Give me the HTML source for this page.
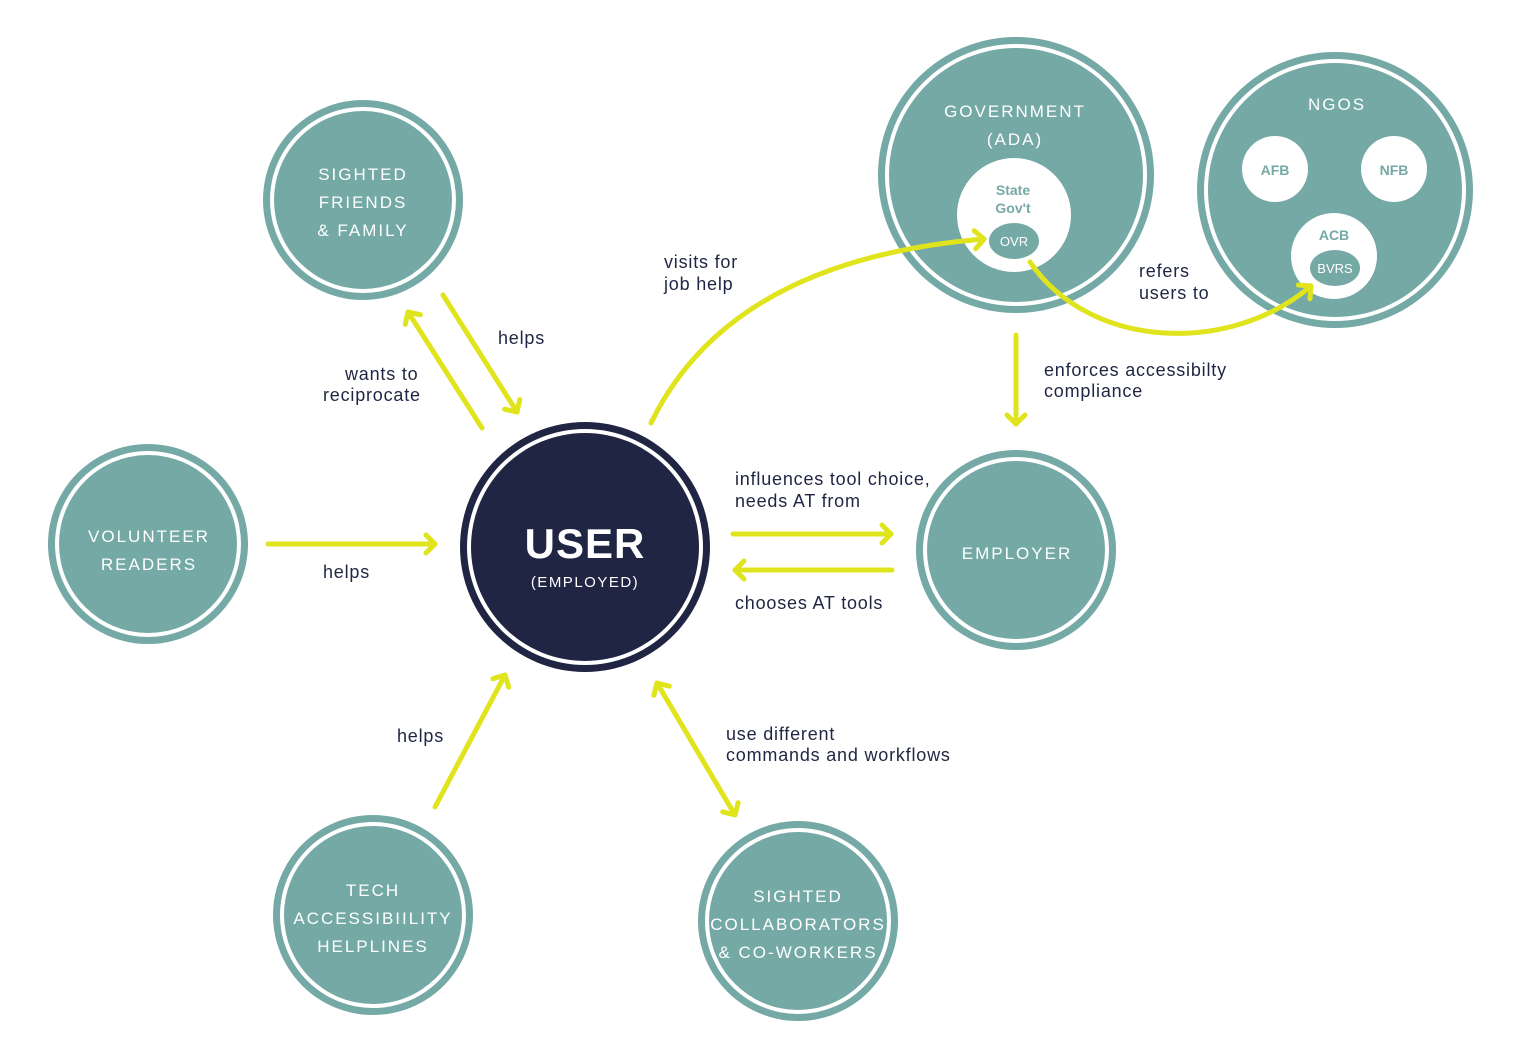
<!DOCTYPE html>
<html><head><meta charset="utf-8"><style>
body{margin:0;background:#fff}
svg{display:block}
.t{font-family:"Liberation Sans",sans-serif;fill:#fff;font-size:17px;letter-spacing:2px;text-anchor:middle}
.l{font-family:"Liberation Sans",sans-serif;fill:#1f2543;font-size:18px;letter-spacing:0.8px}
.s{font-family:"Liberation Sans",sans-serif;fill:#74a9a6;font-size:14px;text-anchor:middle;font-weight:bold}
.w{font-family:"Liberation Sans",sans-serif;fill:#fff;font-size:13px;text-anchor:middle}
.a{stroke:#e0e41c;stroke-width:5;fill:none;stroke-linecap:round}
</style></head><body>
<svg width="1531" height="1059" viewBox="0 0 1531 1059">
<defs>
<marker id="m" viewBox="-12 -12 24 24" markerWidth="24" markerHeight="24" refX="0" refY="0" orient="auto" markerUnits="userSpaceOnUse">
<path d="M-9,-9 L0,0 L-9,9" stroke="#e0e41c" stroke-width="5" fill="none" stroke-linecap="round" stroke-linejoin="round"/>
</marker>
<marker id="ms" viewBox="-12 -12 24 24" markerWidth="24" markerHeight="24" refX="0" refY="0" orient="auto-start-reverse" markerUnits="userSpaceOnUse">
<path d="M-9,-9 L0,0 L-9,9" stroke="#e0e41c" stroke-width="5" fill="none" stroke-linecap="round" stroke-linejoin="round"/>
</marker>
</defs>
<g fill="#74a9a6">
<circle cx="363" cy="200" r="100"/><circle cx="148" cy="544" r="100"/>
<circle cx="1016" cy="550" r="100"/><circle cx="373" cy="915" r="100"/>
<circle cx="798" cy="921" r="100"/><circle cx="1016" cy="175" r="138"/>
<circle cx="1335" cy="190" r="138"/>
</g>
<circle cx="585" cy="547" r="125" fill="#1f2543"/>
<g fill="#fff">
<circle cx="363" cy="200" r="93"/><circle cx="148" cy="544" r="93"/>
<circle cx="1016" cy="550" r="93"/><circle cx="373" cy="915" r="93"/>
<circle cx="798" cy="921" r="93"/><circle cx="1016" cy="175" r="131"/>
<circle cx="1335" cy="190" r="131"/><circle cx="585" cy="547" r="118"/>
</g>
<g fill="#74a9a6">
<circle cx="363" cy="200" r="89"/><circle cx="148" cy="544" r="89"/>
<circle cx="1016" cy="550" r="89"/><circle cx="373" cy="915" r="89"/>
<circle cx="798" cy="921" r="89"/><circle cx="1016" cy="175" r="127"/>
<circle cx="1335" cy="190" r="127"/>
</g>
<circle cx="585" cy="547" r="114" fill="#1f2543"/>
<g fill="#fff">
<circle cx="1014" cy="215" r="57"/><circle cx="1275" cy="169" r="33"/>
<circle cx="1394" cy="169" r="33"/><circle cx="1334" cy="256" r="43"/>
</g>
<ellipse cx="1014" cy="241" rx="25" ry="18" fill="#74a9a6"/>
<ellipse cx="1335" cy="268" rx="25" ry="18" fill="#74a9a6"/>

<text class="t" x="363" y="180">SIGHTED</text>
<text class="t" x="363" y="208">FRIENDS</text>
<text class="t" x="363" y="236">&amp; FAMILY</text>
<text class="t" x="149" y="542">VOLUNTEER</text>
<text class="t" x="149" y="570">READERS</text>
<text class="t" x="1017" y="559">EMPLOYER</text>
<text class="t" x="373" y="896">TECH</text>
<text class="t" x="373" y="924">ACCESSIBIILITY</text>
<text class="t" x="373" y="952">HELPLINES</text>
<text class="t" x="798" y="902">SIGHTED</text>
<text class="t" x="798" y="930">COLLABORATORS</text>
<text class="t" x="798" y="958">&amp; CO-WORKERS</text>
<text class="t" x="1015" y="117">GOVERNMENT</text>
<text class="t" x="1015" y="145">(ADA)</text>
<text class="t" x="1337" y="110">NGOS</text>
<text class="s" x="1013" y="195">State</text>
<text class="s" x="1013" y="213">Gov't</text>
<text class="w" x="1014" y="246">OVR</text>
<text class="s" x="1275" y="175">AFB</text>
<text class="s" x="1394" y="175">NFB</text>
<text class="s" x="1334" y="240">ACB</text>
<text class="w" x="1335" y="273">BVRS</text>
<text x="585" y="558" style="font-family:'Liberation Sans',sans-serif;font-weight:bold;font-size:42px;fill:#fff;letter-spacing:1px;text-anchor:middle">USER</text>
<text x="585" y="587" style="font-family:'Liberation Sans',sans-serif;font-size:15px;fill:#fff;letter-spacing:1.5px;text-anchor:middle">(EMPLOYED)</text>

<g class="l">
<text x="498" y="344">helps</text>
<text x="345" y="380">wants to</text>
<text x="323" y="401">reciprocate</text>
<text x="323" y="578">helps</text>
<text x="397" y="742">helps</text>
<text x="664" y="268">visits for</text>
<text x="664" y="290">job help</text>
<text x="1139" y="277">refers</text>
<text x="1139" y="299">users to</text>
<text x="1044" y="376">enforces accessibilty</text>
<text x="1044" y="397">compliance</text>
<text x="735" y="485">influences tool choice,</text>
<text x="735" y="507">needs AT from</text>
<text x="735" y="609">chooses AT tools</text>
<text x="726" y="740">use different</text>
<text x="726" y="761">commands and workflows</text>
</g>

<g class="a">
<line x1="443" y1="295" x2="517" y2="412" marker-end="url(#m)"/>
<line x1="482" y1="428" x2="408" y2="312" marker-end="url(#m)"/>
<line x1="268" y1="544" x2="435" y2="544" marker-end="url(#m)"/>
<line x1="435" y1="807" x2="505" y2="675" marker-end="url(#m)"/>
<line x1="657" y1="683" x2="735" y2="815" marker-start="url(#ms)" marker-end="url(#ms)"/>
<line x1="733" y1="534" x2="891" y2="534" marker-end="url(#m)"/>
<line x1="892" y1="570" x2="735" y2="570" marker-end="url(#m)"/>
<line x1="1016" y1="335" x2="1016" y2="424" marker-end="url(#m)"/>
<path d="M651,423 Q730,260 984,239" marker-end="url(#m)"/>
<path d="M1030,262 C1090,350 1230,355 1311,286" marker-end="url(#m)"/>
</g>
</svg>
</body></html>
